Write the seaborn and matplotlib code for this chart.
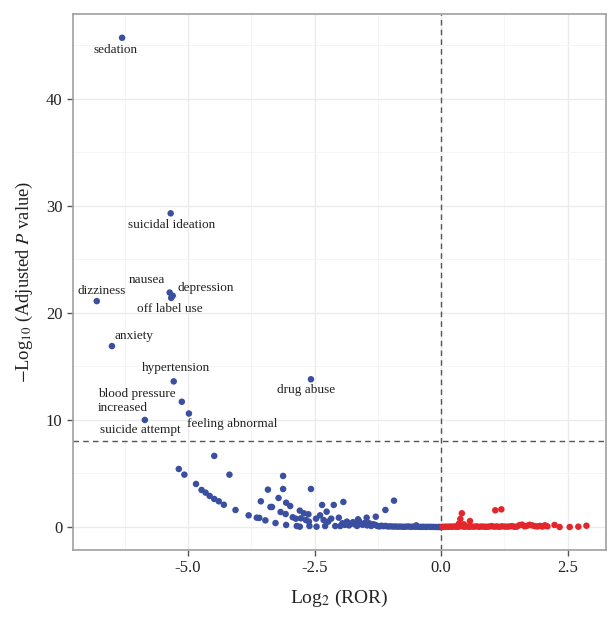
import numpy as np
import pandas as pd
import matplotlib
matplotlib.use('Agg')
import matplotlib.pyplot as plt
import seaborn as sns
from matplotlib.ticker import MultipleLocator

# labelled signals (log2 ROR, -log10 adjusted p)
lab_names = ['sedation', 'suicidal ideation', 'dizziness', 'nausea', 'depression', 'off label use',
             'anxiety', 'hypertension', 'drug abuse', 'blood pressure\nincreased', 'feeling abnormal',
             'suicide attempt']
lab_x = [-6.30, -5.34, -6.80, -5.36, -5.30, -5.33, -6.50, -5.28, -2.57, -5.12, -4.98, -5.85]
lab_y = [45.7, 29.3, 21.1, 21.9, 21.6, 21.4, 16.9, 13.6, 13.8, 11.7, 10.6, 10.0]

# other down-regulated (blue) points
blue_x = [-5.18, -5.07, -4.48, -4.84, -4.73, -4.65, -4.57, -4.48, -4.39, -4.29, -4.18, -4.06,
          -3.80, -3.64, -3.59, -3.47, -3.42, -3.56, -3.37, -3.34, -3.27, -3.21, -3.12, -3.12,
          -3.17, -3.07, -3.06, -2.98, -3.06, -2.93, -2.87, -2.85, -2.79, -2.79, -2.77, -2.71,
          -2.67, -2.62, -2.57, -2.61, -2.60, -2.47, -2.46, -2.39, -2.35, -2.32, -2.26, -2.29,
          -2.23, -2.17, -2.12, -2.09, -2.02, -1.93, -1.99, -1.64, -1.47, -1.29, -1.10, -0.93,
          -0.49,
          -1.95, -1.90, -1.86, -1.82, -1.78, -1.74, -1.70, -1.66, -1.62, -1.58, -1.55, -1.50,
          -1.46, -1.42, -1.38, -1.34, -1.30, -1.26, -1.22, -1.18, -1.14, -1.10, -1.05, -1.00,
          -0.95, -0.90, -0.85, -0.80, -0.75, -0.70, -0.65, -0.60, -0.55, -0.50, -0.45, -0.40,
          -0.35, -0.30, -0.25, -0.20, -0.15, -0.10, -0.05, -0.02]
blue_y = [5.42, 4.89, 6.64, 4.02, 3.46, 3.21, 2.90, 2.62, 2.40, 2.08, 4.89, 1.59,
          1.09, 0.87, 0.85, 0.62, 3.49, 2.40, 1.87, 1.87, 0.37, 2.71, 4.77, 3.55,
          1.40, 1.21, 2.27, 1.96, 0.19, 0.91, 0.78, 0.09, 1.53, 0.03, 0.81, 1.28,
          0.65, 1.19, 3.55, 0.50, 0.09, 0.78, 0.03, 1.09, 2.06, 0.65, 1.43, 0.09,
          0.50, 0.78, 2.06, 0.09, 0.87, 2.34, 0.09, 0.72, 0.87, 0.96, 1.59, 2.46,
          0.15,
          0.35, 0.20, 0.50, 0.15, 0.30, 0.45, 0.25, 0.10, 0.55, 0.30, 0.20, 0.40,
          0.15, 0.35, 0.10, 0.25, 0.20, 0.10, 0.05, 0.12, 0.08, 0.10, 0.05, 0.06,
          0.04, 0.05, 0.03, 0.04, 0.02, 0.03, 0.05, 0.02, 0.03, 0.02, 0.02, 0.01,
          0.02, 0.01, 0.02, 0.01, 0.01, 0.00, 0.00, 0.00]

# up-regulated (red) points
red_x = [0.41, 0.38, 0.57, 1.07, 1.19, 0.35, 0.45, 2.24, 2.34, 2.54, 2.71, 2.87,
         0.03, 0.06, 0.10, 0.14, 0.18, 0.22, 0.26, 0.30, 0.34, 0.38, 0.42, 0.46,
         0.50, 0.55, 0.60, 0.65, 0.70, 0.75, 0.80, 0.85, 0.90, 0.95, 1.00, 1.05,
         1.10, 1.15, 1.20, 1.25, 1.30, 1.35, 1.40, 1.45, 1.50, 1.55, 1.60, 1.65,
         1.70, 1.75, 1.80, 1.85, 1.90, 1.95, 2.00, 2.05, 2.10]
red_y = [1.28, 0.75, 0.56, 1.56, 1.65, 0.30, 0.25, 0.19, 0.00, 0.00, 0.03, 0.12,
         0.02, 0.01, 0.03, 0.02, 0.04, 0.02, 0.05, 0.03, 0.02, 0.10, 0.06, 0.03,
         0.05, 0.02, 0.04, 0.03, 0.06, 0.02, 0.05, 0.03, 0.02, 0.04, 0.08, 0.03,
         0.05, 0.02, 0.06, 0.04, 0.03, 0.05, 0.08, 0.02, 0.04, 0.18, 0.22, 0.06,
         0.12, 0.20, 0.15, 0.08, 0.05, 0.10, 0.04, 0.16, 0.06]

# text offsets for the labels (pixels)
lab_dx = [-7, 1, 5, -23, 33, -1, 22, 2, -5, -84, 43, -5]
lab_dy = [-12, -12, 10, 13, 8, -11, 10, 13, -11, 1, -10, -10]

blue = '#3a4fa0'
red = '#e3262c'

df = pd.DataFrame({
    'x': lab_x + blue_x + red_x,
    'y': lab_y + blue_y + red_y,
    'grp': ['down'] * (len(lab_x) + len(blue_x)) + ['up'] * len(red_x),
})

sns.set_style('whitegrid')
plt.rcParams['font.family'] = ['Liberation Serif', 'DejaVu Serif']
plt.rcParams['mathtext.fontset'] = 'stix'
plt.rcParams['axes.unicode_minus'] = False

fig = plt.figure(figsize=(6.08, 6.18), dpi=100)
ax = fig.add_axes([0.120, 0.110, 0.877, 0.867])

sns.scatterplot(data=df, x='x', y='y', hue='grp', palette={'down': blue, 'up': red},
                s=22, linewidth=0, legend=False, ax=ax, zorder=3)

for n, x, y, dx, dy in zip(lab_names, lab_x, lab_y, lab_dx, lab_dy):
    ha = 'left' if n.startswith('blood') else 'center'
    ax.annotate(n, xy=(x, y), xytext=(dx, dy), textcoords='offset pixels',
                ha=ha, va='center', fontsize=9.5, color='#222222', zorder=4)

ax.axhline(8, color='#555555', lw=1, ls=(0, (4, 3)), zorder=2)
ax.axvline(0, color='#555555', lw=1, ls=(0, (4, 3)), zorder=2)

ax.set_xlim(-7.27, 3.26)
ax.set_ylim(-2.15, 47.9)
ax.xaxis.set_major_locator(MultipleLocator(2.5))
ax.xaxis.set_minor_locator(MultipleLocator(1.25))
ax.yaxis.set_major_locator(MultipleLocator(10))
ax.yaxis.set_minor_locator(MultipleLocator(5))
ax.xaxis.set_major_formatter(matplotlib.ticker.FormatStrFormatter('%.1f'))

ax.grid(which='major', color='#ebebeb', lw=1)
ax.grid(which='minor', color='#f4f4f4', lw=0.6)
for s in ax.spines.values():
    s.set_color('#a0a0a0')
    s.set_linewidth(1.2)
ax.tick_params(which='major', direction='out', length=4, width=1, color='#555555',
               labelsize=12, labelcolor='#222222', bottom=True, left=True)
ax.tick_params(which='minor', length=0)

ax.set_xlabel('Log$_2$ (ROR)', fontsize=14, color='#222222', labelpad=8)
ax.set_ylabel('$-$Log$_{10}$ (Adjusted $P$ value)', fontsize=13.3, color='#222222', labelpad=8)

fig.savefig('out.png', dpi=100)
